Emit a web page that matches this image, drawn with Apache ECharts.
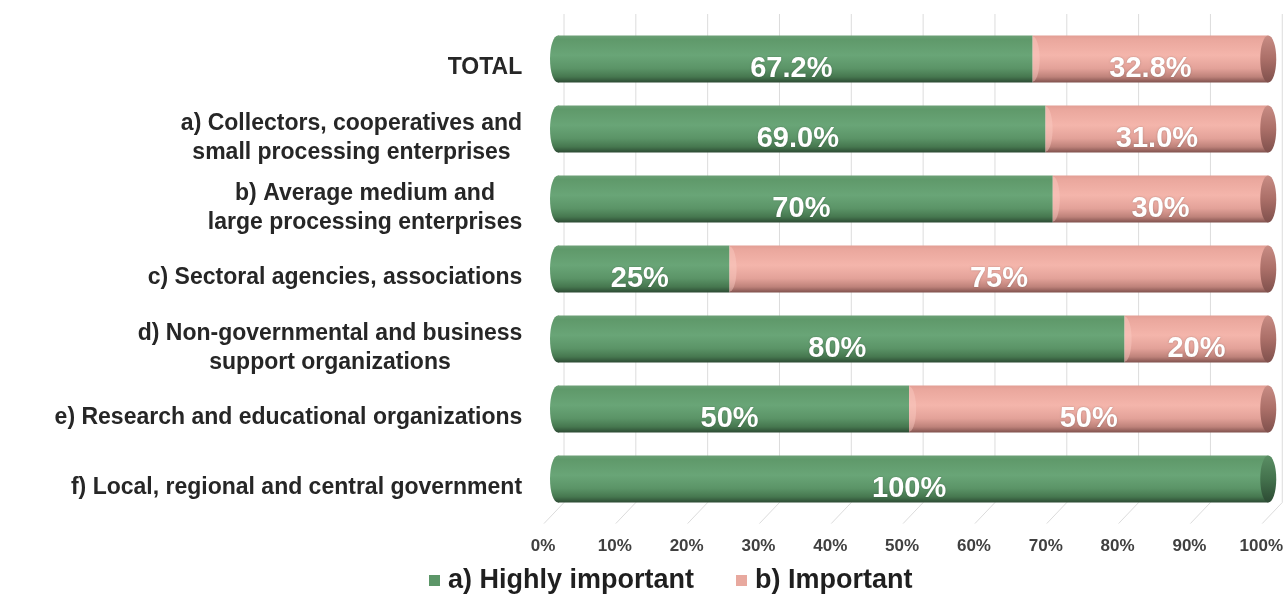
<!DOCTYPE html>
<html>
<head>
<meta charset="utf-8">
<title>Importance by stakeholder group</title>
<script src="https://cdn.jsdelivr.net/npm/echarts/dist/echarts.min.js"></script>
<style>
  html, body { margin: 0; padding: 0; background: #ffffff; }
  #chart { width: 1286px; height: 608px; }
</style>
</head>
<body>
<div id="chart"></div>
<script>
// Stakeholder groups, top to bottom
const categories = [
  'TOTAL',
  'a) Collectors, cooperatives and\nsmall processing enterprises',
  'b) Average medium and\nlarge processing enterprises',
  'c) Sectoral agencies, associations',
  'd) Non-governmental and business\nsupport organizations',
  'e) Research and educational organizations',
  'f) Local, regional and central government'
];
// Shares in percent
const highlyImportant = [67.2, 69.0, 70, 25, 80, 50, 100];
const important       = [32.8, 31.0, 30, 75, 20, 50, 0];
// Decimal places shown in each row's labels
const labelDecimals   = [1, 1, 0, 0, 0, 0, 0];
const seriesNames = ['a) Highly important', 'b) Important'];
const axisTicks = [0, 10, 20, 30, 40, 50, 60, 70, 80, 90, 100];

const FONT = '"Liberation Sans", Arial, Helvetica, sans-serif';
const BAR_RATIO = 0.672;   // share of the category band filled by a cylinder
const CAP_RX = 8;          // horizontal radius of the cylinder end faces

const palettes = [
  {
    legend: '#5c9668',
    body: [
      { offset: 0, color: '#6c9f76' },
      { offset: 0.08, color: '#5f996a' },
      { offset: 0.42, color: '#69a577' },
      { offset: 0.7, color: '#5b9467' },
      { offset: 0.88, color: '#46774f' },
      { offset: 1, color: '#2c4a33' }
    ],
    cap: [
      { offset: 0, color: '#5a8e64' },
      { offset: 0.5, color: '#44724d' },
      { offset: 1, color: '#2c4a33' }
    ],
    edge: '#8cc096'
  },
  {
    legend: '#e8a99f',
    body: [
      { offset: 0, color: '#e29e94' },
      { offset: 0.08, color: '#eaa79d' },
      { offset: 0.42, color: '#f4b5ab' },
      { offset: 0.7, color: '#e3a299' },
      { offset: 0.88, color: '#be827a' },
      { offset: 1, color: '#7f514d' }
    ],
    cap: [
      { offset: 0, color: '#c88c84' },
      { offset: 0.5, color: '#ab6f68' },
      { offset: 1, color: '#7f504c' }
    ],
    edge: '#fbcdc4'
  }
];

// [category index, start, end] for each stacked segment
const greenData = highlyImportant.map((v, i) => [i, 0, v]);
const pinkData = important.map((v, i) => [i, highlyImportant[i], highlyImportant[i] + v]);

function halfEllipsePoints(cx, cy, rx, ry) {
  const pts = [];
  for (let a = -90; a <= 90; a += 10) {
    const t = a * Math.PI / 180;
    pts.push([cx + rx * Math.cos(t), cy + ry * Math.sin(t)]);
  }
  return pts;
}

function segmentRenderer(seriesIndex) {
  const pal = palettes[seriesIndex];
  const values = seriesIndex === 0 ? highlyImportant : important;
  return function (params, api) {
    const row = api.value(0);
    const start = api.value(1);
    const end = api.value(2);
    if (end - start <= 0) return null;
    const i = params.dataIndex;
    const rowTotal = highlyImportant[i] + important[i];
    const p0 = api.coord([start, row]);
    const p1 = api.coord([end, row]);
    const h = api.size([0, 1])[1] * BAR_RATIO;
    const cy = p0[1];
    const top = cy - h / 2;
    const bodyFill = () => new echarts.graphic.LinearGradient(0, 0, 0, 1, pal.body);
    const children = [];
    const isFirst = start <= 0;
    const isLast = Math.abs(end - rowTotal) < 1e-9;

    const bodyX = isFirst ? p0[0] + CAP_RX : p0[0];
    children.push({
      type: 'rect',
      shape: { x: bodyX, y: top, width: Math.max(0, p1[0] - bodyX), height: h },
      style: { fill: bodyFill() }
    });
    if (isFirst) {
      // rounded front of the starting face
      children.push({
        type: 'ellipse',
        shape: { cx: p0[0] + CAP_RX, cy: cy, rx: CAP_RX, ry: h / 2 },
        style: { fill: bodyFill() }
      });
    } else {
      // lit rim where this segment meets the previous one
      children.push({
        type: 'polygon',
        shape: { points: halfEllipsePoints(p0[0], cy, CAP_RX - 1, h / 2 - 1) },
        style: { fill: pal.edge, opacity: 0.45 }
      });
    }
    if (isLast) {
      children.push({
        type: 'ellipse',
        shape: { cx: p1[0], cy: cy, rx: CAP_RX, ry: h / 2 },
        style: { fill: new echarts.graphic.LinearGradient(0, 0, 0, 1, pal.cap) }
      });
    }
    children.push({
      type: 'text',
      style: {
        text: values[i].toFixed(labelDecimals[i]) + '%',
        x: (p0[0] + p1[0]) / 2,
        y: cy + 10,
        align: 'center',
        verticalAlign: 'middle',
        fill: '#ffffff',
        font: 'bold 29px ' + FONT,
        textShadowColor: 'rgba(0,0,0,0.25)',
        textShadowBlur: 2
      }
    });
    return { type: 'group', children: children };
  };
}

// Category labels: every line centred within the block, block right-aligned
const measureCtx = document.createElement('canvas').getContext('2d');
measureCtx.font = 'bold 23px ' + FONT;
const rich = {};
categories.forEach((c, i) => {
  const w = Math.max(...c.split('\n').map(l => measureCtx.measureText(l).width));
  rich['c' + i] = {
    width: Math.ceil(w) + 1,
    align: 'center',
    fontFamily: FONT,
    fontSize: 23,
    fontWeight: 'bold',
    lineHeight: 29,
    color: '#262626'
  };
});

const chart = echarts.init(document.getElementById('chart'), null, { renderer: 'canvas' });

chart.setOption({
  backgroundColor: '#ffffff',
  animation: false,
  grid: { left: 550, right: 13, top: 24, height: 490 },
  legend: {
    left: 424,
    top: 562,
    itemWidth: 11,
    itemHeight: 11,
    itemGap: 42,
    icon: 'rect',
    textStyle: { fontFamily: FONT, fontSize: 27, fontWeight: 'bold', color: '#1f1f1f', padding: [0, 0, 0, 3] },
    data: seriesNames
  },
  xAxis: {
    type: 'value',
    min: 0,
    max: 100,
    interval: 10,
    axisLine: { show: false },
    axisTick: { show: false },
    splitLine: { show: false },
    axisLabel: {
      formatter: '{value}%',
      margin: 24,
      padding: [0, 14, 0, 0],
      fontFamily: FONT,
      fontSize: 17,
      fontWeight: 'bold',
      color: '#404040'
    }
  },
  yAxis: {
    type: 'category',
    inverse: true,
    data: categories,
    axisLine: { show: false },
    axisTick: { show: false },
    splitLine: { show: false },
    axisLabel: {
      margin: 27,
      padding: [18, 0, 0, 0],
      formatter: (value, index) => value.split('\n').map(l => '{c' + index + '|' + l + '}').join('\n'),
      rich: rich
    }
  },
  series: [
    {
      name: 'gridlines',
      type: 'custom',
      silent: true,
      z: 0,
      data: axisTicks.map(v => [v]),
      encode: { x: 0 },
      renderItem: function (params, api) {
        const x = api.coord([api.value(0), 0])[0];
        const cs = params.coordSys;
        const band = cs.height / categories.length;
        const floorY = cs.y + cs.height - band * (1 - BAR_RATIO) / 2;
        return {
          type: 'polyline',
          shape: { points: [[x + 14, cs.y - 10], [x + 14, floorY], [x - 6, floorY + 21]] },
          style: { stroke: '#dcdcdc', lineWidth: 1, fill: null }
        };
      }
    },
    {
      name: seriesNames[0],
      type: 'custom',
      z: 2,
      itemStyle: { color: palettes[0].legend },
      data: greenData,
      encode: { x: [1, 2], y: 0 },
      renderItem: segmentRenderer(0)
    },
    {
      name: seriesNames[1],
      type: 'custom',
      z: 3,
      itemStyle: { color: palettes[1].legend },
      data: pinkData,
      encode: { x: [1, 2], y: 0 },
      renderItem: segmentRenderer(1)
    }
  ]
});
</script>
</body>
</html>
